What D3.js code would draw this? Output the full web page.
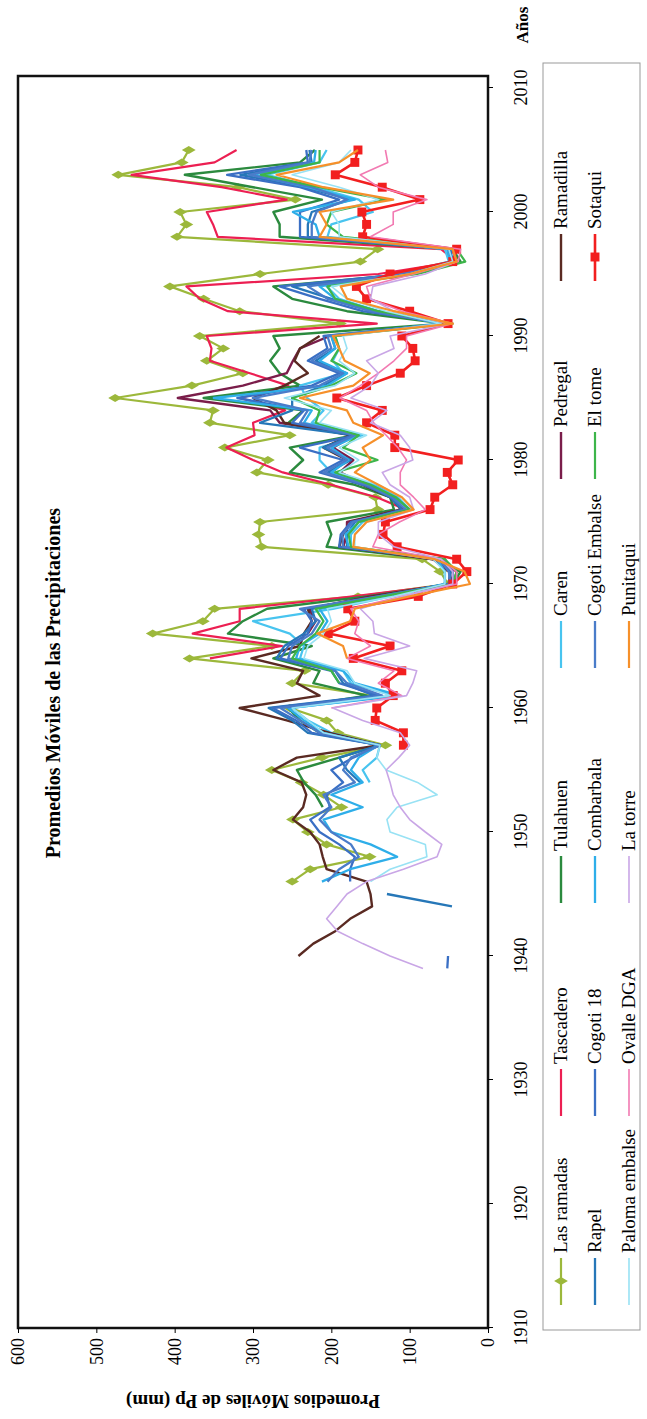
<!DOCTYPE html>
<html>
<head>
<meta charset="utf-8">
<script src="https://cdn.jsdelivr.net/npm/d3@7"></script>
<style>
  body { margin: 0; background: #fff; }
  text { font-family: "Liberation Serif", "Times New Roman", serif; }
</style>
</head>
<body>
<div id="myChart"></div>
<script>
// moving averages of precipitation (mm), one value per year from each start year
const lasRamadas = [250,227,151,206,230,249,187,210,238,276, 212,131,192,206,253,148,250,234,381,276,
  428,364,349,166,51,61,84,289,293,291, 141,144,204,295,281,336,253,355,351,476,
  378,313,359,338,368,189,317,363,406,291, 163,141,397,385,393,246,319,472,391,382];           // 1946-2005
const tascadero = [355,263,377,317,317,172,45,40,70,185, 180,165,105,142,200,262,300,334,298,300,
  259,317,255,304,355,353,359,142,332,368, 385,140,40,60,345,351,359,257,340,455, 349,321];   // 1964-2005
const tulahuen = [211,220,235,244,190,138,215,240,255,155, 223,215,274,225,332,313,282,155,45,35,
  70,206,200,206,120,125,170,253,236,253, 170,255,236,363,240,266,278,266,274,55,
  180,250,274,100,35,45,266,266,274,212, 300,387,240,221];                                     // 1952-2005
const caren = [151,160,142,138,200,230,250,120,175,185, 240,235,253,300,198,125,55,55,65,175,
  175,160,100,115,145,200,215,215,160,225, 210,231,240,185,198,190,195,60,140,190,
  206,115,50,55,205,200,147,165,220,282, 215,206];                                             // 1954-2005
const pedregal = [230,220,228,150,45,50,70,185,180,180, 112,120,155,189,172,198,170,266,278,396,
  313,257,249,240,202];                                                                        // 1966-1990
const ramadilla = [242,223,195,176,148,150,155,206,211,215, 227,249,236,232,238,274,244,138,202,257,
  317,215,244,236,302,240,235,225,230,145, 50,48,62,190,185,175,110,125,160,200,
  180,210,175,260,270,300,260,230,247,240, 215];                                               // 1940-1990
const rapel = [46,129, null,null,null,null,null,null,null,null,
  163,180,190,138,230,250,280,145,185,195, 270,260,235,220,225,140,50,48,58,180,
  180,170,110,125,158,205,175,210,172,291, 250,250,210,180,220,195,200,52,145,200,
  250,108,45,48,230,230,225,175,235,316, 225,228];                                             // 1944-2005
const cogoti18 = [52,51, null,null,null,null,null,
  176,176,170,190,215,227,202,206,185,200, 172,138,225,245,275,140,190,200,265,255,
  230,225,235,135,45,45,55,190,188,175, 100,120,160,215,185,240,168,250,235,320,
  225,190,230,205,210,50,160,215,266,105, 40,45,240,240,240,190,240,333,230,232];              // 1939-2005
const combarbala = [212,176,116,150,200,210,160,200,160,175, 165,140,210,235,255,112,170,185,245,240,
  215,205,215,130,55,55,65,178,182,165, 100,118,150,200,178,200,165,235,225,350,
  205,180,215,195,200,58,140,195,215,112, 48,52,215,220,249,170,230,300,222,220];              // 1946-2005
const cogotiEmbalse = [205,190,165,175,200,215,200,210,170,185, 175,138,215,240,265,135,180,195,255,250,
  225,215,240,140,48,50,62,185,186,172, 105,123,155,210,180,205,170,240,230,300,
  215,185,225,200,205,55,150,205,230,110, 45,50,225,225,219,180,225,305,228,225];              // 1946-2005
const elTome = [190,200,250,240,220,210,220,135,45,40, 55,175,178,165,100,118,150,195,141,185,
  165,220,215,250,200,168,200,190,195,45, 140,195,205,90,29,40,185,206,200,130,
  215,290,215,215];                                                                            // 1962-2005
const sotaqui = [108,108,144,142,121,131,110,172,125,204, 170,179,89,45,27,40,116,134,131,74,
  68,45,52,38,119,119,155,135,193,155, 112,93,96,110,51,100,155,168,125,45,
  40,160,155,161,87,135,195,170,166];                                                          // 1957-2005
const palomaEmbalse = [150,125,78,80,125,129,116,65,90,130, 142,138,210,230,250,125,170,180,235,230,
  210,200,205,120,55,55,70,170,170,155, 95,110,140,190,165,190,155,215,200,260,
  195,170,190,180,185,60,130,180,200,100, 45,50,190,190,200,140,190,250,190,175];              // 1946-2005
const ovalleDGA = [200,110,140,120,180,150,170,165,175,110, 40,40,60,147,140,113,80,95,112,112,
  104,115,130,146,155,189,163,140,120,104, 104,45,110,150,155,95,38,35,150,121,
  121,78,140,163,128,131];                                                                     // 1960-2005
const laTorre = [83,125,160,192,206,193,180,155,108,65, 59,80,100,112,121,125,130,114,100,112,
  160,198,104,96,91,158,100,145,147,163, 110,45,45,60,120,140,140,95,100,125,
  135,96,100,112,150,129,175,150,140,155, 120,125,50,120,150,147,80,40];                       // 1939-1996
const punitaqui = [180,185,218,176,170,100,23,30,68,172, 170,155,95,110,140,170,150,160,134,172,
  180,240,172,151,183,190,198,45,120,180, 188,100,40,45,215,206,215,121,210,270, 190,166];    // 1964-2005

const yearTicks = [1910,1920,1930,1940,1950,1960,1970,1980,1990,2000,2010];
const valueTicks = [0,100,200,300,400,500,600];

// series in legend order (row by row)
const series = [
  {name:"Las ramadas", color:"#9cb83b", start:1946, values:lasRamadas, w:2.2, mark:"diamond"},
  {name:"Tascadero", color:"#ec1f52", start:1964, values:tascadero, w:2.2},
  {name:"Tulahuen", color:"#2b8a3e", start:1952, values:tulahuen, w:2.4},
  {name:"Caren", color:"#48c4ef", start:1954, values:caren, w:2.2},
  {name:"Pedregal", color:"#7a1d4a", start:1966, values:pedregal, w:2.4},
  {name:"Ramadilla", color:"#5a2a22", start:1940, values:ramadilla, w:2.4},
  {name:"Rapel", color:"#2677b8", start:1944, values:rapel, w:2.3},
  {name:"Cogoti 18", color:"#3a6fc4", start:1939, values:cogoti18, w:2.3},
  {name:"Combarbala", color:"#2eaee9", start:1946, values:combarbala, w:2.3},
  {name:"Cogoti Embalse", color:"#4a7cc9", start:1946, values:cogotiEmbalse, w:2.3},
  {name:"El tome", color:"#3db54a", start:1962, values:elTome, w:2.2},
  {name:"Sotaqui", color:"#f21f1f", start:1957, values:sotaqui, w:2.6, mark:"square"},
  {name:"Paloma embalse", color:"#98e2f4", start:1946, values:palomaEmbalse, w:1.6},
  {name:"Ovalle DGA", color:"#f27ab2", start:1960, values:ovalleDGA, w:1.6},
  {name:"La torre", color:"#c9a6e6", start:1939, values:laTorre, w:1.6},
  {name:"Punitaqui", color:"#f6902a", start:1964, values:punitaqui, w:2.2}
];

const W = 647, H = 1419;
const svg = d3.select("#myChart").append("svg")
    .attr("width", W).attr("height", H);

// the chart is laid out landscape and turned a quarter turn, years running bottom to top
const g = svg.append("g").attr("transform", `translate(0,${H}) rotate(-90)`);

const x = d3.scaleLinear().domain([1910, 2010]).range([91, 1331]);
const y = d3.scaleLinear().domain([0, 600]).range([488, 18]);

const line = d3.line()
    .defined(d => d.v != null)
    .x(d => x(d.year))
    .y(d => y(d.v));

const markerFor = s => d3.symbol()
    .type(s.mark == "square" ? d3.symbolSquare : d3.symbolDiamond)
    .size(s.mark == "square" ? 80 : 55);

const plot = g.append("g");
series.forEach(s => {
  const pts = s.values.map((v, i) => ({year: s.start + i, v: v}));
  plot.append("path")
      .datum(pts)
      .attr("fill", "none")
      .attr("stroke", s.color)
      .attr("stroke-width", s.w)
      .attr("stroke-linejoin", "round")
      .attr("d", line);
  if (s.mark) {
    plot.selectAll(null)
      .data(pts.filter(d => d.v != null))
      .join("path")
        .attr("transform", d => `translate(${x(d.year)},${y(d.v)})`)
        .attr("d", markerFor(s))
        .attr("fill", s.color);
  }
});

// plot frame
g.append("rect")
    .attr("x", 91).attr("y", 18)
    .attr("width", 1343 - 91).attr("height", 488 - 18)
    .attr("fill", "none").attr("stroke", "#111").attr("stroke-width", 2.5);

// year axis
g.append("g")
    .attr("transform", "translate(0,488)")
    .call(d3.axisBottom(x).tickValues(yearTicks).tickFormat(d3.format("d")).tickSize(5).tickPadding(21))
    .call(a => a.select(".domain").remove())
    .style("font-size", "18px")
    .style("font-family", "Liberation Serif");

// value axis
g.append("g")
    .attr("transform", "translate(91,0)")
    .call(d3.axisLeft(y).tickValues(valueTicks).tickSize(5).tickPadding(5))
    .call(a => a.select(".domain").remove())
    .style("font-size", "18px")
    .style("font-family", "Liberation Serif");

g.append("text")
    .attr("x", 1394).attr("y", 528)
    .attr("text-anchor", "middle")
    .style("font-size", "17px").style("font-weight", "bold")
    .text("Años");

g.append("text")
    .attr("transform", "translate(24,253) rotate(-90)")
    .attr("text-anchor", "middle")
    .style("font-size", "19px").style("font-weight", "bold")
    .text("Promedios Móviles de Pp (mm)");

g.append("text")
    .attr("x", 736).attr("y", 60)
    .attr("text-anchor", "middle")
    .style("font-size", "20px").style("font-weight", "bold")
    .text("Promedios Móviles de las Precipitaciones");

// LEGEND //
g.append("rect")
    .attr("x", 89).attr("y", 543)
    .attr("width", 1356 - 89).attr("height", 97)
    .attr("fill", "none").attr("stroke", "#999").attr("stroke-width", 1);

const colStart = [166, 355, 568, 803, 992, 1190];
const rowY = [561, 595, 629];
series.forEach((s, i) => {
  const tx = colStart[i % 6], ty = rowY[Math.floor(i / 6)];
  const lg = g.append("g");
  lg.append("line")
      .attr("x1", tx - 52).attr("x2", tx - 5)
      .attr("y1", ty).attr("y2", ty)
      .attr("stroke", s.color).attr("stroke-width", s.w);
  if (s.mark) {
    lg.append("path")
        .attr("transform", `translate(${tx - 28},${ty})`)
        .attr("d", markerFor(s))
        .attr("fill", s.color);
  }
  lg.append("text")
      .attr("x", tx).attr("y", ty + 6)
      .style("font-size", "19px")
      .text(s.name);
});
</script>
</body>
</html>
